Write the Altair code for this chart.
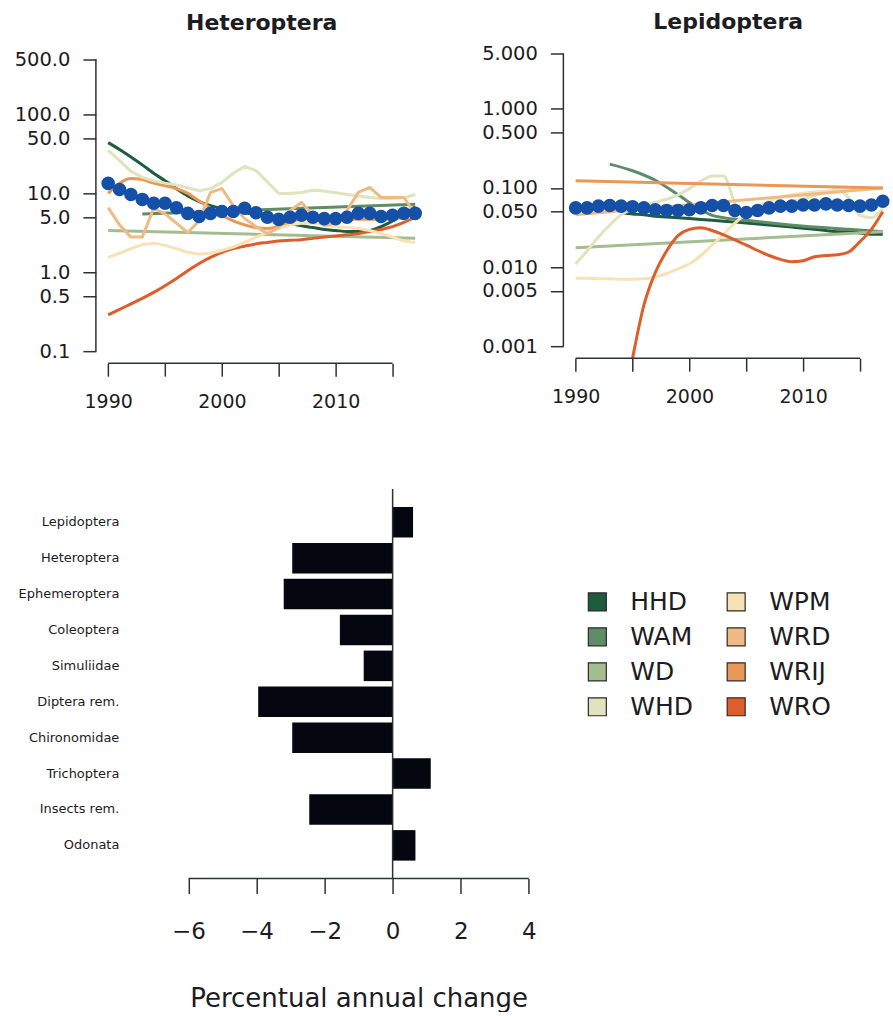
import altair as alt
import pandas as pd

# ---------------- data ----------------
years = list(range(1990, 2018))
sites = ["HHD", "WAM", "WD", "WHD", "WPM", "WRD", "WRIJ", "WRO"]
site_colors = ["#1f5b3d", "#5f8c66", "#a4bd90", "#e0e3bb", "#f7e2b6", "#efbb85", "#ea9857", "#df5d2a"]

# Heteroptera (index trajectories per site)
het_blue = [13.4, 11.2, 9.7, 8.4, 7.5, 7.5, 6.6, 5.6, 5.1, 5.6, 5.9, 5.9, 6.5, 5.7,
            5.0, 4.7, 5.0, 5.3, 5.0, 4.8, 4.8, 5.0, 5.6, 5.6, 5.1, 5.3, 5.6, 5.6]
het_HHD_years = years
het_HHD = [44, 36, 29, 23, 18, 14.5, 11.5, 9.3, 7.9, 7.0, 6.4, 6.0, 5.7, 5.4,
           5.0, 4.6, 4.2, 3.9, 3.7, 3.5, 3.4, 3.3, 3.3, 3.4, 3.8, 4.5, 5.5, 6.8]
het_WAM_years = [1993, 2017]
het_WAM = [5.5, 7.3]
het_WD_years = [1990, 2017]
het_WD = [3.4, 2.7]
het_WHD_years = years
het_WHD = [35, 26, 19, 16, 14.5, 13.5, 12.8, 11.8, 10.8, 11.5, 13.8, 18, 22, 19.5,
           14, 10, 10, 10.3, 11, 10.7, 10.2, 9.7, 9.3, 8.9, 8.6, 8.6, 8.8, 9.7]
het_WPM_years = years
het_WPM = [1.55, 1.75, 2.0, 2.25, 2.35, 2.2, 2.0, 1.8, 1.7, 1.75, 1.9, 2.1, 2.4, 2.8,
           3.2, 3.6, 4.0, 4.2, 4.2, 4.0, 3.8, 3.7, 3.6, 3.4, 3.1, 2.8, 2.5, 2.4]
het_WRD_years = years
het_WRD = [6.6, 4.0, 2.8, 2.8, 6.5, 5.5, 4.2, 3.2, 4.5, 10.3, 11.5, 7.0, 4.8, 3.8,
           3.1, 3.7, 6.1, 7.7, 5.3, 3.9, 4.2, 6.1, 10.3, 11.9, 8.9, 8.9, 8.9, 5.5]
het_WRIJ_years = years
het_WRIJ = [10, 13.5, 15.5, 15, 13.5, 12.5, 11.5, 10, 8, 6.5, 5.3, 4.5, 4.0, 3.7,
            3.6, 3.8, 4.3, 4.8, 5.0, 5.0, 4.9, 4.8, 4.7, 4.7, 4.7, 4.8, 5.0, 5.5]
het_WRO_years = years
het_WRO = [0.29, 0.34, 0.40, 0.47, 0.56, 0.68, 0.84, 1.05, 1.3, 1.55, 1.8, 2.0, 2.15, 2.3,
           2.4, 2.5, 2.55, 2.6, 2.7, 2.8, 2.9, 3.0, 3.1, 3.3, 3.5, 3.8, 4.3, 5.0]
het_polyline_sites = ["WHD", "WPM", "WRD"]

# Lepidoptera
lep_blue = [0.056, 0.056, 0.059, 0.060, 0.059, 0.058, 0.056, 0.053, 0.052, 0.052, 0.053, 0.056,
            0.060, 0.060, 0.052, 0.049, 0.052, 0.056, 0.059, 0.059, 0.061, 0.061, 0.063, 0.061,
            0.060, 0.059, 0.061, 0.068]
lep_HHD_years = list(range(1994, 2018))
lep_HHD = [0.049, 0.047, 0.046, 0.044, 0.043, 0.042, 0.041, 0.040, 0.039, 0.038, 0.037, 0.036,
           0.035, 0.034, 0.033, 0.032, 0.031, 0.030, 0.029, 0.028, 0.028, 0.027, 0.026, 0.026]
lep_WAM_years = [1993, 1995, 1997, 1999, 2001, 2002, 2003, 2005, 2008, 2011, 2014, 2017]
lep_WAM = [0.20, 0.165, 0.125, 0.082, 0.053, 0.045, 0.042, 0.039, 0.035, 0.032, 0.030, 0.028]
lep_WD_years = [1990, 2017]
lep_WD = [0.0175, 0.028]
lep_WHD_years = years
lep_WHD = [0.011, 0.016, 0.024, 0.034, 0.046, 0.054, 0.060, 0.066, 0.072, 0.082, 0.098, 0.122,
           0.142, 0.142, 0.065, 0.045, 0.046, 0.052, 0.059, 0.066, 0.073, 0.080, 0.088, 0.097,
           0.075, 0.045, 0.042, 0.055]
lep_WPM_years = years
lep_WPM = [0.0072, 0.0072, 0.0071, 0.0071, 0.0070, 0.0070, 0.0071, 0.0075, 0.0083, 0.0095,
           0.011, 0.014, 0.019, 0.026, 0.036, 0.047, 0.058, 0.068, 0.076, 0.082, 0.086, 0.089,
           0.091, 0.093, 0.095, 0.097, 0.098, 0.100]
lep_WRD_years = [1990, 2017]
lep_WRD = [0.046, 0.100]
lep_WRIJ_years = [1990, 2017]
lep_WRIJ = [0.123, 0.100]
lep_WRO_years = list(range(1995, 2018))
lep_WRO = [0.0007, 0.0033, 0.0085, 0.016, 0.025, 0.030, 0.0315, 0.029, 0.0255, 0.022, 0.019,
           0.0162, 0.014, 0.0125, 0.0117, 0.012, 0.0135, 0.014, 0.0143, 0.0155, 0.021, 0.030, 0.050]
lep_polyline_sites = []

# Bar chart
bar_taxa = ["Lepidoptera", "Heteroptera", "Ephemeroptera", "Coleoptera", "Simuliidae",
            "Diptera rem.", "Chironomidae", "Trichoptera", "Insects rem.", "Odonata"]
bar_change = [0.6, -2.95, -3.2, -1.55, -0.85, -3.95, -2.95, 1.12, -2.45, 0.67]

# Legend layout (column, row)
legend_col = [0, 0, 0, 0, 1, 1, 1, 1]
legend_row = [0, 1, 2, 3, 0, 1, 2, 3]

FONT = "DejaVu Sans"
AX = "#2e3038"
TXT = "#1c1c22"

color_scale = alt.Scale(domain=sites, range=site_colors)


def long_frame(prefix):
    g = globals()
    rows = []
    for s in sites:
        for y, v in zip(g[f"{prefix}_{s}_years"], g[f"{prefix}_{s}"]):
            rows.append({"site": s, "year": y, "value": v})
    return pd.DataFrame(rows)


def panel(title, prefix, blue, xdom, ydom, w, h, yvals, yfmt, yspan, toff):
    df = long_frame(prefix)
    poly = globals()[f"{prefix}_polyline_sites"]
    bdf = pd.DataFrame({"year": years, "value": blue})
    one = pd.DataFrame({"k": [0]})
    xaxis = alt.Axis(values=[1990, 1995, 2000, 2005, 2010, 2015], domain=False, grid=False,
                     tickSize=13, tickWidth=1.5, tickColor=AX, labelFont=FONT, labelFontSize=19,
                     labelColor=TXT, labelPadding=16, labelFlush=False, labelOverlap=False,
                     labelExpr="datum.value % 10 == 0 ? datum.label : ''", format="d", title=None)
    yaxis = alt.Axis(values=yvals, format=yfmt, domain=False, grid=False, tickSize=13,
                     tickWidth=1.5, tickColor=AX, labelFont=FONT, labelFontSize=19.5,
                     labelColor=TXT, labelPadding=13, labelOverlap=False, labelFlush=False,
                     title=None)
    xs = alt.Scale(domain=xdom, nice=False, zero=False)
    ys = alt.Scale(type="log", domain=ydom, nice=False)
    enc = dict(
        x=alt.X("year:Q", scale=xs, axis=xaxis),
        y=alt.Y("value:Q", scale=ys, axis=yaxis),
        color=alt.Color("site:N", scale=color_scale, legend=None),
    )
    smooth = alt.Chart(df[~df.site.isin(poly)]).mark_line(
        strokeWidth=3, clip=True, interpolate="monotone").encode(**enc)
    layers = [smooth]
    if poly:
        layers.append(alt.Chart(df[df.site.isin(poly)]).mark_line(
            strokeWidth=3, clip=True, strokeJoin="round").encode(**enc))
    dots = alt.Chart(bdf).mark_circle(size=185, color="#1450a8", opacity=1).encode(
        x="year:Q", y="value:Q")
    xline = alt.Chart(one).mark_rule(color=AX, strokeWidth=1.5).encode(
        x=alt.datum(1990), x2=alt.datum(2015), y=alt.value(h))
    yline = alt.Chart(one).mark_rule(color=AX, strokeWidth=1.5).encode(
        x=alt.value(0), y=alt.datum(yspan[0]), y2=alt.datum(yspan[1]))
    return alt.layer(*layers, dots, xline, yline).properties(
        width=w, height=h,
        title=alt.TitleParams(title, font=FONT, fontSize=22, fontWeight="bold", color=TXT,
                              anchor="middle", offset=toff))


p1 = panel("Heteroptera", "het", het_blue, [1988.92, 2018.08], [0.0711, 703], 332, 316,
           [0.1, 0.5, 1, 5, 10, 50, 100, 500], ".1f", [0.1, 500], 13)
p2 = panel("Lepidoptera", "lep", lep_blue, [1988.92, 2017.9], [0.000706, 5.957], 330, 311,
           [0.001, 0.005, 0.01, 0.05, 0.1, 0.5, 1, 5], ".3f", [0.001, 5], 10)

# ---- bar chart ----
bdf = pd.DataFrame({"taxon": bar_taxa, "change": bar_change})
one = pd.DataFrame({"k": [0]})
BW, BH = 368, 390
bars = alt.Chart(bdf).mark_bar(color="#05060f").encode(
    y=alt.Y("taxon:N", sort=bar_taxa,
            scale=alt.Scale(paddingInner=0.15, paddingOuter=0.5),
            axis=alt.Axis(domain=False, ticks=False, labelPadding=56, labelFont=FONT,
                          labelFontSize=13, labelColor=TXT, title=None)),
    x=alt.X("change:Q", scale=alt.Scale(domain=[-6.4, 4.4], nice=False, zero=False),
            axis=alt.Axis(values=[-6, -4, -2, 0, 2, 4], domain=False, grid=False, tickSize=15,
                          tickWidth=1.5, tickColor=AX, labelFont=FONT, labelFontSize=23,
                          labelColor=TXT, labelPadding=27, labelFlush=False,
                          title="Percentual annual change", titleFont=FONT, titleFontSize=26,
                          titleFontWeight="normal", titleColor=TXT, titlePadding=42)),
)
zero = alt.Chart(one).mark_rule(color=AX, strokeWidth=1.5).encode(
    x=alt.datum(0), y=alt.value(0), y2=alt.value(BH))
baxis = alt.Chart(one).mark_rule(color=AX, strokeWidth=1.5).encode(
    x=alt.datum(-6), x2=alt.datum(4), y=alt.value(BH))
barchart = alt.layer(bars, zero, baxis).properties(width=BW, height=BH)

spacer = alt.Chart(one).mark_point(opacity=0).encode(
    x=alt.value(0), y=alt.value(0)).properties(width=79, height=BH)

# ---- legend ----
ldf = pd.DataFrame({"site": sites, "col": legend_col, "row": legend_row})
lx = alt.X("col:Q", scale=alt.Scale(domain=[0, 1], range=[55, 194]), axis=None)
ly = alt.Y("row:Q", scale=alt.Scale(domain=[0, 3], range=[113, 218]), axis=None)
sq = alt.Chart(ldf).mark_square(size=324, stroke="#2a2a2a", strokeWidth=1.2, opacity=1).encode(
    x=lx, y=ly, color=alt.Color("site:N", scale=color_scale, legend=None))
lt = alt.Chart(ldf).mark_text(align="left", baseline="middle", dx=33, font=FONT, fontSize=25,
                              color=TXT).encode(x=lx, y=ly, text="site:N")
legend = alt.layer(sq, lt).properties(width=300, height=BH)

top = alt.hconcat(p1, p2, spacing=136, bounds="flush")
bottom = alt.hconcat(spacer, barchart, legend, spacing=0, bounds="flush")
chart = alt.vconcat(top, bottom, spacing=75).properties(
    padding={"left": 14, "top": 10, "right": 0, "bottom": 0},
    background="white",
).configure_view(stroke=None)

chart.save("out.html", embed_options={"renderer": "svg", "actions": False})
